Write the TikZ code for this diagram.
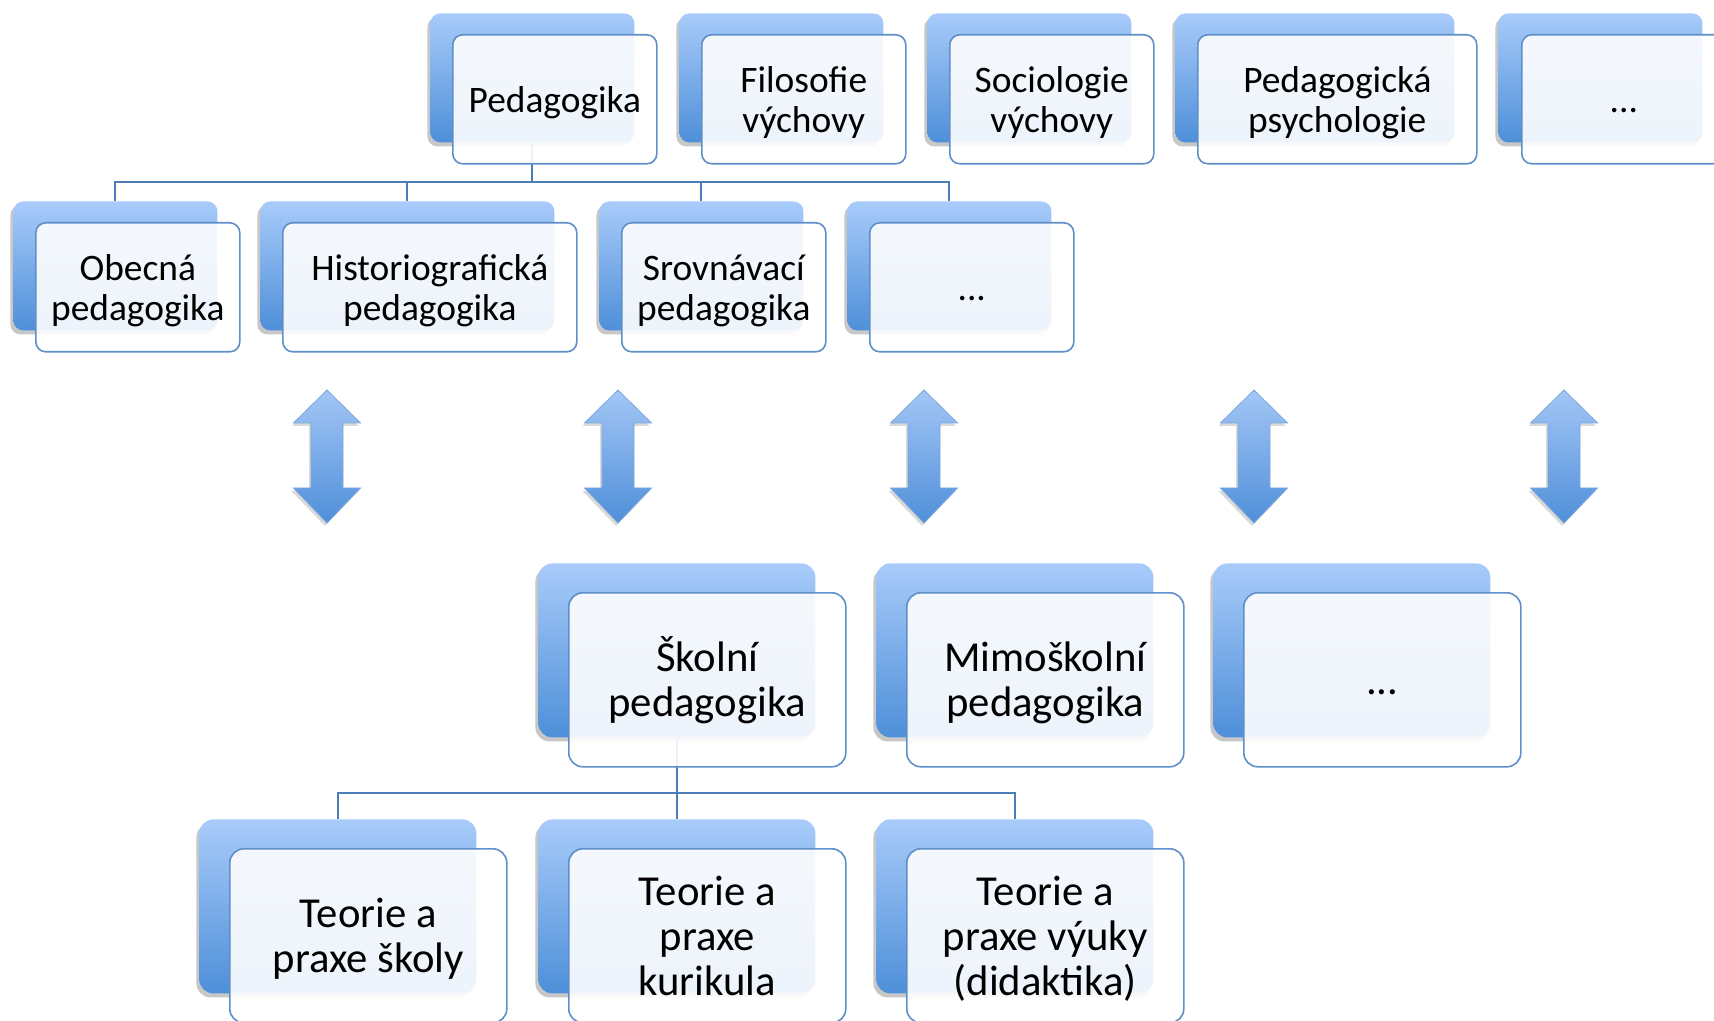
\documentclass[tikz,border=0pt]{standalone}
\usepackage{fontspec}
\setmainfont{Carlito}
\usetikzlibrary{shadows}
\definecolor{backtop}{HTML}{A8CBFA}
\definecolor{backbot}{HTML}{4E8FD9}
\definecolor{frontline}{HTML}{5F8FC8}
\definecolor{connline}{HTML}{4C7DB6}
\definecolor{arrtop}{HTML}{A3C6F6}
\definecolor{arrbot}{HTML}{4F8FD9}
\definecolor{arrline}{HTML}{7AA6DD}
% line strut with Calibri-like ascent/descent
\newcommand{\lnstr}{\rule[-0.269em]{0pt}{1.221em}}
\newcommand{\smallcard}{\fontsize{18.7}{20}\selectfont\lineskiplimit -30pt\relax\lineskip 0pt\relax}
\newcommand{\bigcard}{\fontsize{21.35}{22.5}\selectfont\lineskiplimit -30pt\relax\lineskip 0pt\relax}
\tikzset{
  backA/.style={rounded corners=5pt, top color=backtop, bottom color=backbot, draw=none,
    drop shadow={shadow xshift=-1.5pt, shadow yshift=-2pt, fill=black, opacity=0.22},
    inner sep=0pt, anchor=north west, minimum height=64.5pt},
  backB/.style={backA, rounded corners=7pt, minimum height=87pt, minimum width=138.5pt},
  frontA/.style={rounded corners=5pt, draw=frontline, line width=0.8pt, fill=white,
    fill opacity=0.9, text opacity=1, align=center, inner sep=0pt, anchor=north west,
    minimum height=64.5pt, font=\smallcard},
  frontB/.style={frontA, rounded corners=7pt, minimum height=87pt, minimum width=138.5pt,
    font=\bigcard},
  conn/.style={draw=connline, line width=1pt},
  dblarrow/.style={top color=arrtop, bottom color=arrbot, draw=arrline, line width=0.4pt,
    drop shadow={shadow xshift=-1pt, shadow yshift=-1.5pt, fill=black, opacity=0.15}}
}
\begin{document}
\begin{tikzpicture}[x=0.5pt,y=-0.5pt]
\useasboundingbox (0,0) rectangle (1714,1021);
\fill[white] (0,0) rectangle (1714,1021);

% ---- back boxes, row 1
\node[backA, minimum width=102pt] (bPed) at (430,13) {};
\node[backA, minimum width=102pt] (bFil) at (679,13) {};
\node[backA, minimum width=102pt] (bSoc) at (927,13) {};
\node[backA, minimum width=139.5pt] (bPsy) at (1175,13) {};
\node[backA, minimum width=102pt] (bDot1) at (1498,13) {};
% ---- back boxes, row 2
\node[backA, minimum width=102pt] (bObe) at (13,201) {};
\node[backA, minimum width=147pt] (bHis) at (260,201) {};
\node[backA, minimum width=102pt] (bSro) at (599,201) {};
\node[backA, minimum width=102pt] (bDot2) at (847,201) {};
% ---- back boxes, row 3
\node[backB] (bSko) at (538,563) {};
\node[backB] (bMim) at (876,563) {};
\node[backB] (bDot3) at (1213,563) {};
% ---- back boxes, row 4
\node[backB] (bTs) at (199,819) {};
\node[backB] (bTk) at (538,819) {};
\node[backB] (bTv) at (876,819) {};

% ---- connectors
\coordinate (j1) at (0,182);
\coordinate (j2) at (0,793);
\foreach \c in {bObe,bHis,bSro,bDot2}
  \draw[conn] (bPed.south) -- (bPed.south |- j1) -| (\c.north);
\foreach \c in {bTs,bTk,bTv}
  \draw[conn] (bSko.south) -- (bSko.south |- j2) -| (\c.north);

% ---- front boxes, row 1
\node[frontA, minimum width=102pt] (fPed) at (452,34) {\lnstr Pedagogika};
\node[frontA, minimum width=102pt] (fFil) at (701,34) {\lnstr Filosofie\\\lnstr výchovy};
\node[frontA, minimum width=102pt] (fSoc) at (949,34) {\lnstr Sociologie\\\lnstr výchovy};
\node[frontA, minimum width=139.5pt] (fPsy) at (1197,34) {\lnstr Pedagogická\\\lnstr psychologie};
\node[frontA, minimum width=102pt] (fDot1) at (1521,34) {\lnstr ...};
% ---- front boxes, row 2
\node[frontA, minimum width=102pt] (fObe) at (35,222) {\lnstr Obecná\\\lnstr pedagogika};
\node[frontA, minimum width=147pt] (fHis) at (282,222) {\lnstr Historiografická\\\lnstr pedagogika};
\node[frontA, minimum width=102pt] (fSro) at (621,222) {\lnstr Srovnávací\\\lnstr pedagogika};
\node[frontA, minimum width=102pt] (fDot2) at (869,222) {\lnstr ...};
% ---- front boxes, row 3
\node[frontB] (fSko) at (568,592) {\lnstr Školní\\\lnstr pedagogika};
\node[frontB] (fMim) at (906,592) {\lnstr Mimoškolní\\\lnstr pedagogika};
\node[frontB] (fDot3) at (1243,592) {\lnstr ...};
% ---- front boxes, row 4
\node[frontB] (fTs) at (229,848) {\lnstr Teorie a\\\lnstr praxe školy};
\node[frontB] (fTk) at (568,848) {\lnstr Teorie a\\\lnstr praxe\\\lnstr kurikula};
\node[frontB] (fTv) at (906,848) {\lnstr Teorie a\\\lnstr praxe výuky\\\lnstr (didaktika)};

% ---- double arrows
\foreach \cx in {327,618,924,1254,1564}
  \path[dblarrow] (\cx,390) -- (\cx+33.5,423) -- (\cx+16,423) -- (\cx+16,488)
    -- (\cx+33.5,488) -- (\cx,523) -- (\cx-33.5,488) -- (\cx-16,488)
    -- (\cx-16,423) -- (\cx-33.5,423) -- cycle;
\end{tikzpicture}
\end{document}
